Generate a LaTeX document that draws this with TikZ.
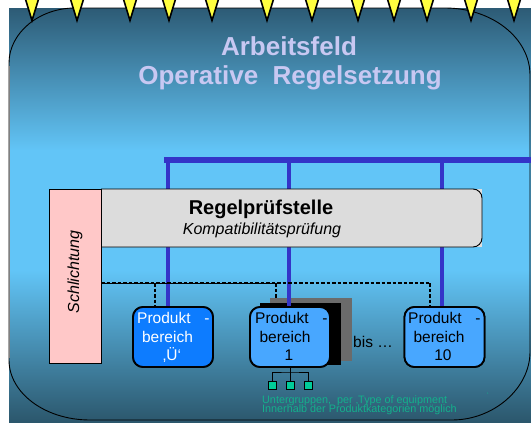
\documentclass[tikz,border=0pt]{standalone}
\usepackage{fontspec}
\setmainfont{Liberation Sans}
\definecolor{bgtop}{HTML}{2D5B75}
\definecolor{bglight}{HTML}{62C5F7}
\definecolor{bgbottom}{HTML}{2B566B}
\definecolor{busblue}{HTML}{3434C8}
\definecolor{titlecol}{HTML}{C8C8F2}
\definecolor{checkgray}{HTML}{DCDCDC}
\definecolor{pinkbox}{HTML}{FFC8C8}
\definecolor{prodU}{HTML}{0D7CFF}
\definecolor{prodN}{HTML}{48A7FF}
\definecolor{shadowgray}{HTML}{6B6B6B}
\definecolor{subgreen}{HTML}{00CC99}
\definecolor{notegreen}{HTML}{14B08C}
\definecolor{lampyellow}{HTML}{FFFF40}
\tikzset{
  bus/.style={draw=busblue, line width=4pt},
  busmain/.style={draw=busblue, line width=6.5pt},
  dashline/.style={draw=black, line width=1.4pt, dash pattern=on 3.5pt off 2pt},
  prodbox/.style={draw=black, line width=1.8pt, rounded corners=10pt,
    minimum width=80pt, minimum height=60pt, inner sep=0pt},
  boxtext/.style={font=\fontsize{15.5}{15.5}\selectfont, inner sep=0pt},
  lamp/.style={fill=lampyellow, draw=black, line width=1.6pt, line join=miter},
  subbox/.style={fill=subgreen, draw=black, line width=0.8pt,
    minimum size=8pt, inner sep=0pt},
  notetext/.style={font=\fontsize{10.8}{10.8}\selectfont, text=notegreen,
    inner sep=0pt, anchor=base west},
  titletext/.style={font=\fontsize{26}{26}\selectfont\bfseries, text=titlecol,
    inner sep=0pt, anchor=base}
}
\begin{document}
\begin{tikzpicture}[x=1pt, y=-1pt]
\clip (0,0) rectangle (531,423);
\fill[white] (0,0) rectangle (531,423);

% background panel with vertical colour gradient
\shade[top color=bgtop, bottom color=bglight] (9,8) rectangle (531,150.5);
\fill[bglight] (9,150) rectangle (531,270.5);
\shade[top color=bglight, bottom color=bgbottom] (9,270) rectangle (531,423);

% rounded frame of the working field
\draw[black, line width=0.9pt]
  (9,63) .. controls (9,33) and (39,8) .. (75,8) -- (445,8)
  .. controls (492,8) and (530,38) .. (530,75) -- (530,352)
  .. controls (530,388) and (494,420) .. (452,420) -- (90,420)
  .. controls (45,420) and (9,393) .. (9,360) -- cycle;
\draw[gray, line width=1pt] (9,66) -- (9,358);

% row of lamps along the top edge
\foreach \cx in {32,77,130,169,212,267,312,358,394,427,471,514}
  \draw[lamp] (\cx-7.5,-4) -- (\cx+7.5,-4) -- (\cx,20.5) -- cycle;

% title
\node[titletext] (title1) at (289,55.5) {Arbeitsfeld};
\node[titletext] (title2) at (290,84) {Operative~ Regelsetzung};

% main bus
\coordinate (busL) at (164,160);
\coordinate (busR) at (531,160);
\coordinate (dropU) at (168,157);
\coordinate (drop1) at (289,157);
\coordinate (drop10) at (442,157);
\draw[busmain] (busL) -- (busR);

% product areas and shadow stack
\node[fill=shadowgray, minimum width=82pt, minimum height=63pt, inner sep=0pt]
  (sh2) at (311,329.5) {};
\node[fill=black, minimum width=81pt, minimum height=62pt, inner sep=0pt]
  (sh1) at (300.5,333.5) {};

\path (173,337) node[prodbox, fill=prodU] (pU) {}
      (290,337) node[prodbox, fill=prodN] (p1) {}
      (444.5,337) node[prodbox, fill=prodN] (p10) {};

% drops from the bus to the product areas
\draw[bus] (dropU) -- (dropU |- pU.north);
\draw[bus] (drop1) -- (drop1 |- p1.north);
\draw[bus] (drop10) -- (drop10 |- p10.north);

% dashed arbitration links
\coordinate (dL) at (101,283);
\coordinate (dA) at (155,283);
\coordinate (dB) at (276,283);
\coordinate (dC) at (430,283);
\draw[black, line width=1pt] (dL) -- (dB);
\draw[dashline] (dL) -- (dC);
\draw[dashline] (dA) -- (dA |- pU.north);
\draw[dashline] (dB) -- (dB |- sh2.north);
\draw[dashline] (dC) -- (dC |- p10.north);

% redraw product boxes above the links
\path (173,337) node[prodbox, fill=prodU] (pUtop) {}
      (290,337) node[prodbox, fill=prodN] (p1top) {}
      (444.5,337) node[prodbox, fill=prodN] (p10top) {};

% rule checking office
\fill[checkgray!90!white] (101,189) rectangle (482,247);
\draw[black, line width=0.9pt, fill=checkgray, rounded corners=9pt]
  (101,189) -- (482,189) -- (482,247) -- (101,247);
\node[font=\fontsize{20}{20}\selectfont\bfseries, inner sep=0pt, anchor=base]
  (rps) at (261,214) {Regelprüfstelle};
\node[font=\fontsize{16}{16}\selectfont\itshape, inner sep=0pt, anchor=base]
  (kompat) at (262,234) {Kompatibilitätsprüfung};

% arbitration column
\node[draw=black, line width=0.9pt, fill=pinkbox, minimum width=52pt,
  minimum height=174pt, inner sep=0pt] (schl) at (75,276) {};
\node[font=\fontsize{16}{16}\selectfont\itshape, rotate=90, inner sep=0pt]
  (schltext) at (75,272) {Schlichtung};

% labels of the product areas
\node[boxtext, text=white, anchor=base west] (pUa) at (137,323) {Produkt};
\node[boxtext, text=white, anchor=base] (pUd) at (207,323) {-};
\node[boxtext, text=white, anchor=base] (pUb) at (167.5,342) {bereich};
\node[boxtext, text=white, anchor=base] (pUc) at (172,360) {‚Ü‘};

\node[boxtext, anchor=base west] (p1a) at (255,323) {Produkt};
\node[boxtext, anchor=base] (p1d) at (325,323) {-};
\node[boxtext, anchor=base] (p1b) at (285,342) {bereich};
\node[boxtext, anchor=base] (p1c) at (289,360) {1};

\node[boxtext, anchor=base west] (p10a) at (408,323) {Produkt};
\node[boxtext, anchor=base] (p10d) at (478,323) {-};
\node[boxtext, anchor=base] (p10b) at (439,342) {bereich};
\node[boxtext, anchor=base] (p10c) at (443,360) {10};

\node[boxtext, anchor=base west] (bis) at (353,347) {bis …};

% sub-groups below product area 1
\node[subbox] (s1) at (272,385) {};
\node[subbox] (s2) at (290,385) {};
\node[subbox] (s3) at (308,385) {};
\coordinate (junction) at (290,372);
\draw[black, line width=0.8pt] (p1top.south) -- (junction);
\draw[black, line width=0.8pt] (s1.north) |- (junction) -| (s3.north);
\draw[black, line width=0.8pt] (junction) -- (s2.north);

\node[notetext] (note1) at (262,403) {Untergruppen,~ per ‚Type of equipment};
\node[notetext] (note2) at (262,412.7) {Innerhalb der Produktkategorien möglich};
\node[font=\fontsize{7}{7}\selectfont, text=notegreen, inner sep=0pt]
  (mark) at (488,395) {‘};
\end{tikzpicture}
\end{document}
